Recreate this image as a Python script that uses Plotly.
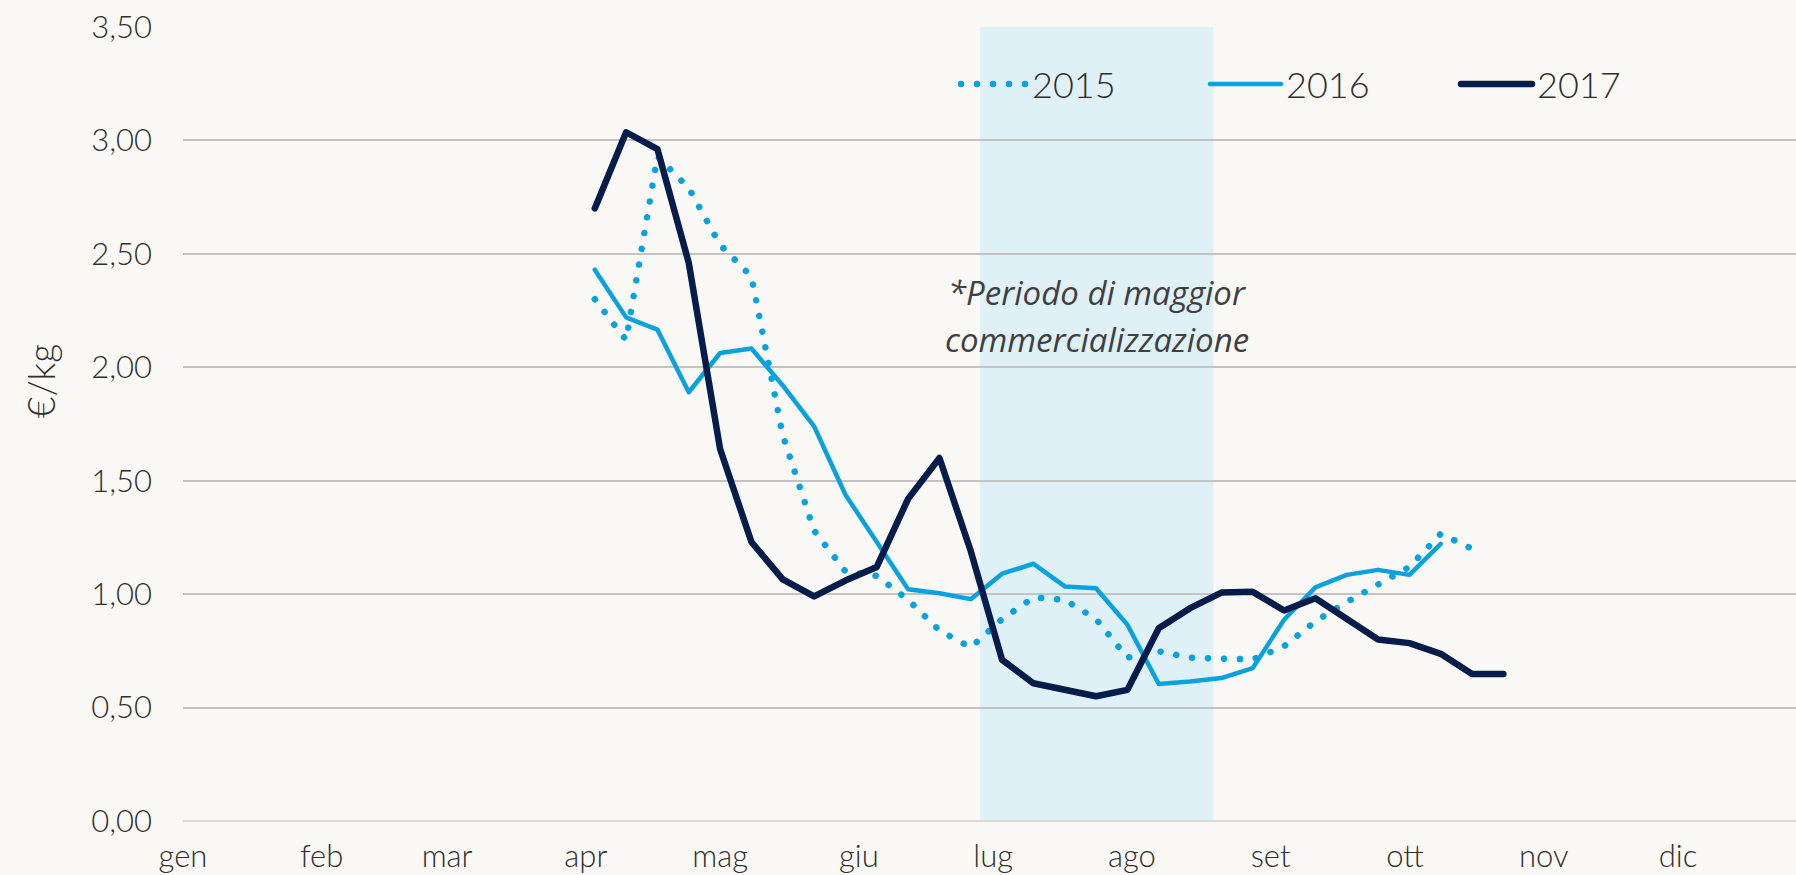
import plotly.graph_objects as go

# ---- data ----
week_dates = [
    "2017-04-03", "2017-04-10", "2017-04-17", "2017-04-24", "2017-05-01",
    "2017-05-08", "2017-05-15", "2017-05-22", "2017-05-29", "2017-06-05",
    "2017-06-12", "2017-06-19", "2017-06-26", "2017-07-03", "2017-07-10",
    "2017-07-17", "2017-07-24", "2017-07-31", "2017-08-07", "2017-08-14",
    "2017-08-21", "2017-08-28", "2017-09-04", "2017-09-11", "2017-09-18",
    "2017-09-25", "2017-10-02", "2017-10-09", "2017-10-16", "2017-10-23",
]

price_2015 = [2.30, 2.12, 2.93, 2.79, 2.54, 2.40, 1.70, 1.28, 1.10, 1.08,
              0.975, 0.84, 0.765, 0.89, 0.985, 0.975, 0.89, 0.72, 0.748, 0.72,
              0.716, 0.712, 0.77, 0.88, 0.965, 1.045, 1.12, 1.266, 1.20]

price_2016 = [2.43, 2.22, 2.166, 1.89, 2.063, 2.083, 1.92, 1.74, 1.438, 1.23,
              1.022, 1.004, 0.978, 1.09, 1.134, 1.034, 1.026, 0.865, 0.604, 0.615,
              0.63, 0.674, 0.887, 1.03, 1.085, 1.107, 1.085, 1.222]

price_2017 = [2.70, 3.036, 2.962, 2.46, 1.64, 1.23, 1.065, 0.99, 1.06, 1.12,
              1.42, 1.60, 1.19, 0.71, 0.607, 0.578, 0.55, 0.578, 0.85, 0.938,
              1.007, 1.01, 0.928, 0.982, 0.887, 0.80, 0.784, 0.737, 0.648, 0.648]

month_starts = ["2017-01-01", "2017-02-01", "2017-03-01", "2017-04-01",
                "2017-05-01", "2017-06-01", "2017-07-01", "2017-08-01",
                "2017-09-01", "2017-10-01", "2017-11-01", "2017-12-01"]
month_labels = ["gen", "feb", "mar", "apr", "mag", "giu",
                "lug", "ago", "set", "ott", "nov", "dic"]

y_ticks = [0, 0.5, 1.0, 1.5, 2.0, 2.5, 3.0, 3.5]
y_tick_labels = ["0,00", "0,50", "1,00", "1,50", "2,00", "2,50", "3,00", "3,50"]

period_start = "2017-06-28 02:00"
period_end = "2017-08-19 05:00"

# ---- styling ----
BG = "#F9F8F4"
LIGHT = "#09A1DE"
DARK = "#061C4A"
TEXT = "#2E2E2E"
FONT = "Lato"

L, R, T, B = 183, 0, 27, 54
W, H = 1796, 875
PW = W - L - R
PH = H - T - B


def px_x(px):
    return (px - L) / PW


def px_y(py):
    return (H - B - py) / PH


fig = go.Figure()

fig.add_trace(go.Scatter(
    x=week_dates[:len(price_2015)], y=price_2015, name="2015", mode="lines",
    line=dict(color=LIGHT, width=6.5, dash="0.1px,15.9px"), legend="legend",
))
fig.add_trace(go.Scatter(
    x=week_dates[:len(price_2016)], y=price_2016, name="2016", mode="lines",
    line=dict(color=LIGHT, width=4.5), legend="legend2",
))
fig.add_trace(go.Scatter(
    x=week_dates[:len(price_2017)], y=price_2017, name="2017", mode="lines",
    line=dict(color=DARK, width=6.5), legend="legend3",
))

fig.add_shape(type="rect", xref="x", yref="y",
              x0=period_start, x1=period_end, y0=0, y1=3.5,
              fillcolor="#DFF0F6", line=dict(width=0), layer="below")

legend_common = dict(orientation="h", yanchor="middle", xanchor="left",
                     bgcolor="rgba(0,0,0,0)", borderwidth=0,
                     font=dict(family=FONT, size=36, color=TEXT, weight=300))
fig.update_layout(
    legend=dict(x=px_x(956), y=px_y(84), itemwidth=66, **legend_common),
    legend2=dict(x=px_x(1205), y=px_y(84), itemwidth=71, **legend_common),
    legend3=dict(x=px_x(1456), y=px_y(84), itemwidth=71, **legend_common),
)

ann_font = dict(family="Open Sans", size=33, color="#404040", style="italic")
fig.add_annotation(text="*Periodo di maggior", xref="paper", yref="paper",
                   x=px_x(1097), y=px_y(292), xanchor="center", yanchor="middle",
                   showarrow=False, font=ann_font)
fig.add_annotation(text="commercializzazione", xref="paper", yref="paper",
                   x=px_x(1097), y=px_y(339), xanchor="center", yanchor="middle",
                   showarrow=False, font=ann_font)
fig.add_annotation(text="€/kg", xref="paper", yref="paper",
                   x=px_x(40), y=px_y(381), xanchor="center", yanchor="middle",
                   textangle=-90, showarrow=False,
                   font=dict(family=FONT, size=37, color=TEXT, weight=300))

fig.update_xaxes(
    type="date", range=["2017-01-01", "2017-12-27 09:00"],
    tickmode="array", tickvals=month_starts, ticktext=month_labels,
    showgrid=False, zeroline=False, showline=False, ticks="",
    ticklabelstandoff=14,
    tickfont=dict(family=FONT, size=31, color=TEXT, weight=300),
)
fig.update_yaxes(
    range=[0, 3.5], tickmode="array", tickvals=y_ticks, ticktext=y_tick_labels,
    showgrid=True, gridcolor="#C3C3C3", gridwidth=1.6,
    zeroline=True, zerolinecolor="#DADADA", zerolinewidth=2,
    showline=False, ticks="", ticklabelstandoff=30,
    tickfont=dict(family=FONT, size=31, color=TEXT, weight=300),
)

fig.update_layout(
    width=W, height=H,
    margin=dict(l=L, r=R, t=T, b=B, pad=0),
    paper_bgcolor=BG, plot_bgcolor=BG,
    showlegend=True,
)

post_script = """
document.documentElement.style.margin = '0px';
document.body.style.margin = '0px';
document.body.style.overflow = 'hidden';
document.body.style.background = '#F9F8F4';
var gd = document.getElementById('{plot_id}');
gd.querySelectorAll('path.js-line').forEach(function (p) {
    p.style.strokeLinecap = 'round';
    p.style.strokeLinejoin = 'round';
});
"""

fig.write_html("out.html", post_script=post_script,
               config={"displayModeBar": False, "staticPlot": False})
